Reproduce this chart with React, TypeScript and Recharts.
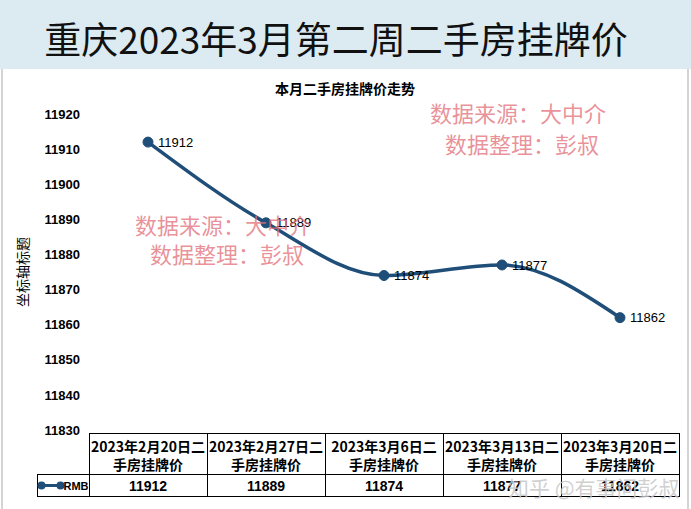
import React from 'react';
import { LineChart, Line, XAxis, YAxis, LabelList } from 'recharts';

const categories = [
  '2023年2月20日二手房挂牌价',
  '2023年2月27日二手房挂牌价',
  '2023年3月6日二手房挂牌价',
  '2023年3月13日二手房挂牌价',
  '2023年3月20日二手房挂牌价',
];
const prices = [11912, 11889, 11874, 11877, 11862];
const seriesName = 'RMB';
const yTicks = [11830, 11840, 11850, 11860, 11870, 11880, 11890, 11900, 11910, 11920];

const mainTitle = '重庆2023年3月第二周二手房挂牌价';
const chartTitle = '本月二手房挂牌价走势';
const yAxisTitle = '坐标轴标题';
const watermarkA = ['数据来源：大中介', '数据整理：彭叔'];
const zhihuMark = '知乎 @有事问彭叔';

const data = categories.map((c, i) => ({ category: c, value: prices[i] }));

const LINE = '#1f4e79';
const COL_W = 118;
const CJK = '"Noto Sans CJK SC", "Noto Sans", sans-serif';
const LAT = '"Liberation Sans", Arial, sans-serif';

function TableTick(props: any) {
  const { x, y, payload } = props;
  const idx = props.index ?? payload.index;
  const label: string = payload.value;
  const cut = label.indexOf('日') + 2;
  const l1 = label.slice(0, cut);
  const l2 = label.slice(cut);
  const left = Math.round(x - COL_W / 2) + 0.5;
  const top = Math.round(y) + 3.5;
  const mid = top + 41;
  const bot = top + 63;
  const value = prices[idx];
  return (
    <g>
      <rect x={left} y={top} width={COL_W} height={bot - top} fill="none" stroke="#000" strokeWidth={1} />
      <line x1={left} x2={left + COL_W} y1={mid} y2={mid} stroke="#000" strokeWidth={1} />
      <text x={x} y={top + 12} textAnchor="middle" dominantBaseline="central" fontFamily={CJK} fontWeight={700} fontSize={14} fill="#000">{l1}</text>
      <text x={x} y={top + 30} textAnchor="middle" dominantBaseline="central" fontFamily={CJK} fontWeight={700} fontSize={14} fill="#000">{l2}</text>
      <text x={x} y={mid + 11} textAnchor="middle" dominantBaseline="central" fontFamily={LAT} fontWeight={700} fontSize={14} fill="#000">{value}</text>
      {idx === 0 && (
        <g>
          <rect x={left - 52} y={mid} width={52} height={bot - mid} fill="none" stroke="#000" strokeWidth={1} />
          <line x1={left - 48} x2={left - 29} y1={mid + 11} y2={mid + 11} stroke={LINE} strokeWidth={3} />
          <circle cx={left - 48} cy={mid + 11} r={4} fill={LINE} />
          <circle cx={left - 29} cy={mid + 11} r={4} fill={LINE} />
          <text x={left - 26} y={mid + 11} dominantBaseline="central" fontFamily={LAT} fontWeight={700} fontSize={11} fill="#000">{seriesName}</text>
        </g>
      )}
    </g>
  );
}

const wmStyle: React.CSSProperties = {
  position: 'absolute',
  fontFamily: CJK,
  fontSize: 22,
  color: 'rgba(226,110,120,0.75)',
  whiteSpace: 'nowrap',
  lineHeight: '30px',
  pointerEvents: 'none',
};

export default function App() {
  return (
    <div style={{ position: 'absolute', left: 0, top: 0, width: 691, height: 509, background: '#fff', overflow: 'hidden' }}>
      <div style={{ position: 'absolute', left: 0, top: 0, width: 691, height: 69, background: '#dcebf2' }} />
      <div style={{ position: 'absolute', left: 336, top: 38, transform: 'translate(-50%,-50%)', fontFamily: CJK, fontSize: 37, color: '#111', whiteSpace: 'nowrap', lineHeight: '44px' }}>{mainTitle}</div>
      <div style={{ position: 'absolute', left: 1, top: 69, width: 2, height: 440, background: '#d4d4d4' }} />
      <div style={{ position: 'absolute', left: 687, top: 69, width: 2, height: 440, background: '#d4d4d4' }} />
      <div style={{ position: 'absolute', left: 345, top: 88, transform: 'translate(-50%,-50%)', fontFamily: CJK, fontSize: 14, fontWeight: 700, color: '#000', whiteSpace: 'nowrap' }}>{chartTitle}</div>
      <div style={{ position: 'absolute', left: 22, top: 272, transform: 'translate(-50%,-50%) rotate(-90deg)', fontFamily: CJK, fontSize: 14, color: '#000', whiteSpace: 'nowrap' }}>{yAxisTitle}</div>
      <div style={{ position: 'absolute', left: 0, top: 0 }}>
        <LineChart width={691} height={509} data={data} margin={{ top: 114, right: 12, bottom: 9, left: 9 }}>
          <XAxis
            dataKey="category"
            axisLine={false}
            tickLine={false}
            tickSize={0}
            tickMargin={0}
            height={70}
            interval={0}
            padding={{ left: COL_W / 2, right: COL_W / 2 }}
            tick={<TableTick />}
          />
          <YAxis
            domain={[11830, 11920]}
            ticks={yTicks}
            axisLine={false}
            tickLine={false}
            tickSize={0}
            tickMargin={9}
            width={80}
            interval={0}
            tick={{ fontFamily: LAT, fontWeight: 700, fontSize: 13, fill: '#000' }}
          />
          <Line
            type="monotone"
            dataKey="value"
            name={seriesName}
            stroke={LINE}
            strokeWidth={3.5}
            dot={{ r: 5, fill: LINE, stroke: LINE, strokeWidth: 1 }}
            isAnimationActive={false}
          >
            <LabelList dataKey="value" position="right" offset={10} fill="#000" fontSize={13} fontFamily={LAT} />
          </Line>
        </LineChart>
      </div>
      <div style={{ ...wmStyle, left: 135, top: 209 }}>{watermarkA[0]}</div>
      <div style={{ ...wmStyle, left: 150, top: 238 }}>{watermarkA[1]}</div>
      <div style={{ ...wmStyle, left: 430, top: 97 }}>{watermarkA[0]}</div>
      <div style={{ ...wmStyle, left: 445, top: 128 }}>{watermarkA[1]}</div>
      <div style={{ position: 'absolute', left: 508, top: 473, fontFamily: CJK, fontSize: 21, color: 'rgba(200,200,200,0.85)', whiteSpace: 'nowrap', lineHeight: '28px', pointerEvents: 'none' }}>{zhihuMark}</div>
    </div>
  );
}
